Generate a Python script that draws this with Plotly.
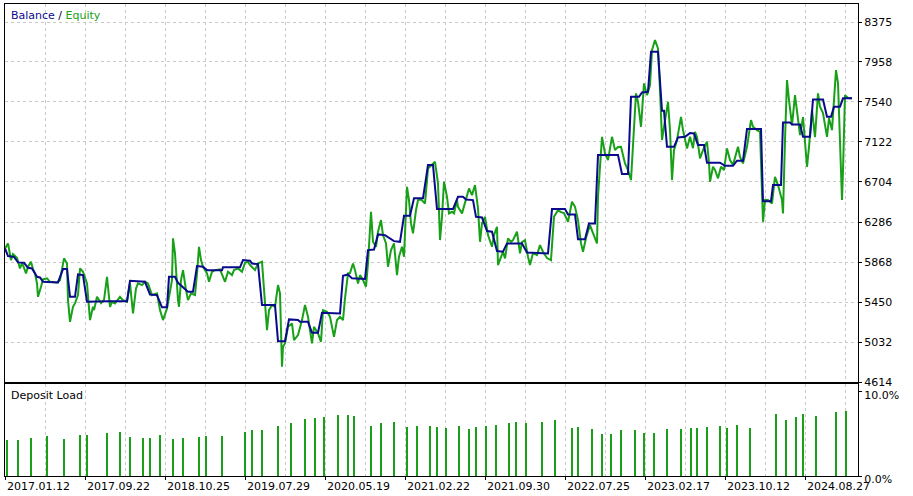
import plotly.graph_objects as go

# ---------------- data ----------------
# x positions are sequential chart-point indices (0 .. 853)
bal_x = [0,3,9,13,19,23,27,32,35,38,
         53,58,62,65,70,73,78,82,103,122,
         125,140,145,152,157,162,164,170,173,183,
         188,192,198,202,217,218,235,238,245,247,
         253,257,270,273,280,284,293,295,303,307,
         313,317,335,338,343,347,360,363,369,373,
         380,389,395,399,405,409,418,423,428,432,
         448,453,458,461,468,471,477,482,487,492,
         498,502,517,522,543,547,560,563,570,573,
         580,584,590,593,613,617,623,626,634,637,
         643,646,653,657,659,662,669,673,680,685,
         689,693,699,702,715,720,728,732,738,742,
         756,758,766,768,776,778,785,787,795,798,
         805,808,818,822,826,829,835,838,847]
balance = [6010,5930,5922,5864,5860,5807,5801,5713,5707,5661,
           5655,5794,5794,5504,5504,5738,5731,5452,5459,5459,
           5672,5661,5529,5522,5394,5394,5713,5713,5651,5557,
           5557,5825,5818,5783,5783,5812,5812,5888,5881,5853,
           5846,5418,5418,5041,5041,5268,5261,5243,5243,5128,
           5128,5337,5331,5724,5738,5697,5690,5992,5999,6156,
           6149,6086,6079,6351,6351,6533,6533,6881,6881,6421,
           6421,6549,6549,6522,6515,6340,6334,6191,6184,5982,
           5975,6062,6062,5968,5958,6421,6421,6365,6365,6107,
           6107,6271,6271,6985,6985,6787,6787,7594,7594,7640,
           7647,8065,8065,7448,7448,7072,7072,7170,7176,7215,
           7212,7090,7090,6905,6905,6873,6873,6926,6926,7257,
           7257,6504,6504,6672,6672,7327,7327,7306,7306,7176,
           7176,7567,7567,7385,7385,7490,7490,7578,7578]

eq_x = [0,2,3,6,8,10,12,15,17,18,
        21,23,26,28,30,32,33,36,38,42,
        45,52,55,59,62,63,65,68,70,73,
        75,78,82,85,88,89,92,96,99,102,
        105,107,110,115,118,122,125,128,131,133,
        137,140,143,147,152,155,158,162,164,167,
        168,170,173,174,176,178,181,183,186,190,
        192,194,196,198,202,204,207,210,215,220,
        223,227,229,233,237,240,243,245,250,253,
        257,260,262,264,267,270,273,275,277,278,
        280,283,287,289,293,297,300,303,307,309,
        313,316,318,322,325,329,332,335,338,340,
        343,345,348,350,353,355,358,361,363,366,
        368,371,373,376,378,381,383,386,389,392,
        394,397,399,402,404,406,408,411,413,416,
        420,423,427,430,433,435,437,439,442,444,
        447,449,452,453,457,460,464,467,470,473,
        475,477,480,483,487,489,492,493,496,498,
        500,503,506,508,512,515,517,520,523,525,
        528,532,535,538,542,546,549,553,556,559,
        563,567,570,573,576,578,581,585,588,592,
        593,595,597,600,603,607,610,613,616,620,
        623,626,628,631,633,636,639,642,645,647,
        650,653,655,657,659,663,665,667,669,672,
        676,678,682,685,688,690,692,695,698,702,
        704,705,708,710,713,716,719,722,725,728,
        733,735,738,742,746,748,752,755,758,760,
        763,767,770,773,777,778,780,782,784,787,
        790,793,795,798,802,804,807,810,813,815,
        818,822,824,827,831,833,835,837,838,840,
        843,847]
equity = [6010,6045,6062,5888,5951,5930,5909,5801,5857,5836,
          5749,5818,5870,5794,5749,5644,5504,5609,5686,5697,
          5661,5655,5679,5906,5853,5470,5243,5400,5435,5522,
          5801,5766,5644,5261,5400,5365,5504,5439,5470,5713,
          5400,5452,5435,5504,5470,5452,5644,5331,5592,5644,
          5627,5661,5644,5522,5540,5365,5261,5383,5522,5679,
          6115,5958,5470,5400,5679,5783,5574,5470,5540,5522,
          5749,6027,5888,5818,5749,5661,5766,5783,5790,5661,
          5766,5731,5783,5801,5766,5860,5870,5836,5783,5853,
          5870,5418,5156,5365,5418,5400,5627,5540,4773,4982,
          5017,5191,5226,5052,5104,5261,5418,5296,5017,5191,
          5122,5034,5365,5348,5296,5086,5261,5296,5261,5488,
          5749,5752,5853,5783,5644,5731,5679,5609,5853,6393,
          6079,6027,6184,6306,6149,6062,5818,5992,6062,5731,
          5923,6027,5923,6654,6515,6271,6167,6410,6515,6522,
          6480,6846,6881,6915,6689,6097,6340,6706,6549,6376,
          6393,6376,6515,6445,6376,6480,6637,6567,6672,6428,
          6079,6271,6340,6149,6027,6149,6236,5836,5923,5975,
          5905,6115,6079,6097,6184,5958,6076,6097,5923,5836,
          5961,5940,6045,5975,5909,5888,6340,6410,6389,6379,
          6288,6497,6445,6306,6062,5975,6118,6254,6170,6062,
          6549,6881,7176,7003,6933,7176,7037,7069,7072,6898,
          6829,6724,7142,7630,7542,7281,7734,7612,7717,8082,
          8187,8100,7664,7142,7281,7542,7246,6724,7037,7142,
          7385,7246,7055,7176,7058,7229,7173,6951,7037,7124,
          6902,6706,6863,6829,6742,6863,6829,7055,6933,6881,
          7072,6967,6898,7072,7351,7281,7246,7229,6288,6515,
          6515,6480,6758,6672,6515,6376,7142,7769,7560,7299,
          7612,7351,7194,7382,6863,7069,7455,7173,7630,7490,
          7424,7176,7372,7246,7873,7738,7212,6515,6828,7612,
          7581,7578]

load_x = [2,13,26,42,59,75,82,102,115,125,
          138,145,155,168,178,194,201,217,240,247,
          257,273,286,300,310,319,333,343,349,366,
          376,389,402,412,425,432,441,454,464,471,
          481,491,504,511,521,537,550,567,573,587,
          597,606,616,630,639,649,662,676,686,692,
          702,715,722,732,745,771,781,791,798,811,
          831,841]
deposit_load = [4.3,4.3,4.5,4.8,4.4,4.9,4.9,5.1,5.2,4.6,
                4.5,4.5,4.9,4.4,4.5,4.6,4.8,4.8,5.2,5.5,
                5.5,6.0,6.3,6.8,6.9,7.0,7.3,7.3,7.1,6.0,
                6.3,6.4,5.8,6.0,6.0,5.8,5.7,6.0,5.6,5.8,
                6.0,6.1,6.3,6.4,6.3,6.4,6.7,5.7,5.8,5.6,
                5.0,5.0,5.5,5.5,5.1,5.1,5.6,5.6,5.7,5.7,
                5.8,6.0,5.7,6.1,5.7,7.4,6.7,7.0,7.4,7.1,
                7.6,7.7]

y_ticks = [4614, 5032, 5450, 5868, 6286, 6704, 7122, 7540, 7958, 8375]
date_pos = [0, 80, 160, 240, 320, 400, 480, 560, 640, 720, 800]
date_labels = ["2017.01.12", "2017.09.22", "2018.10.25", "2019.07.29",
               "2020.05.19", "2021.02.22", "2021.09.30", "2022.07.25",
               "2023.02.17", "2023.10.12", "2024.08.27"]

assert len(bal_x) == len(balance)
assert len(eq_x) == len(equity)
assert len(load_x) == len(deposit_load)

# ---------------- styling ----------------
GREEN = "#19a019"
BLUE = "#0a0a8c"
GRID = "#c8c8c8"
FONT = "DejaVu Sans"
W, H = 913, 496
ML, MR, MT, MB = 5, 55, 4, 20
plot_h = H - MT - MB
top_dom = [(476 - 382) / plot_h, 1.0]
bot_dom = [0.0, (476 - 384) / plot_h]

fig = go.Figure()
fig.add_trace(go.Scatter(x=eq_x, y=equity, mode="lines", name="Equity",
                         line=dict(color=GREEN, width=2), xaxis="x", yaxis="y"))
fig.add_trace(go.Scatter(x=bal_x, y=balance, mode="lines", name="Balance",
                         line=dict(color=BLUE, width=2), xaxis="x", yaxis="y"))
fig.add_trace(go.Bar(x=load_x, y=deposit_load, width=2, marker=dict(color=GREEN, line=dict(width=0)),
                     name="Deposit Load", xaxis="x2", yaxis="y2"))

xcommon = dict(range=[0, 853], tick0=0, dtick=80, showgrid=True, gridcolor=GRID, griddash="3px,3px",
               gridwidth=1, zeroline=False, showline=True, linecolor="black", linewidth=1, mirror=True,
               minor=dict(tick0=0, dtick=40, showgrid=True, gridcolor=GRID, griddash="3px,3px", gridwidth=1))

fig.update_layout(
    width=W, height=H, autosize=False,
    margin=dict(l=ML, r=MR, t=MT, b=MB, pad=0),
    paper_bgcolor="white", plot_bgcolor="white",
    showlegend=False, bargap=0,
    font=dict(family=FONT, size=11, color="black"),
    xaxis=dict(domain=[0, 1], anchor="y", showticklabels=False, ticks="", **xcommon),
    xaxis2=dict(domain=[0, 1], anchor="y2", showticklabels=False, ticks="outside", ticklen=3,
                tickcolor="black", **xcommon),
    yaxis=dict(domain=top_dom, anchor="x", side="right", range=[4614, 8564],
               tickvals=y_ticks, ticktext=[str(v) for v in y_ticks],
               ticks="outside", ticklen=3, tickcolor="black",
               showgrid=True, gridcolor=GRID, griddash="3px,3px", gridwidth=1, zeroline=False,
               showline=True, linecolor="black", linewidth=1, mirror=True,
               tickfont=dict(family=FONT, size=11, color="black")),
    yaxis2=dict(domain=bot_dom, anchor="x2", side="right", range=[0, 10.95],
                tickvals=[0, 10], ticktext=["0.0%", "10.0%"],
                ticks="outside", ticklen=3, tickcolor="black", ticklabelshift=3,
                showgrid=False, zeroline=False,
                showline=True, linecolor="black", linewidth=1, mirror=True,
                tickfont=dict(family=FONT, size=11, color="black")),
)

def py(pix):
    return (H - MB - pix) / plot_h

annotations = [
    dict(xref="paper", yref="paper", x=4 / (W - ML - MR), y=py(15), xanchor="left", yanchor="middle",
         showarrow=False, font=dict(family=FONT, size=11),
         text=f"<span style='color:{BLUE}'>Balance</span><span style='color:#000040'> / </span>"
              f"<span style='color:{GREEN}'>Equity</span>"),
    dict(xref="paper", yref="paper", x=4 / (W - ML - MR), y=py(395), xanchor="left", yanchor="middle",
         showarrow=False, font=dict(family=FONT, size=11, color="black"), text="Deposit Load"),
]
for pos, lab in zip(date_pos, date_labels):
    annotations.append(dict(xref="x2", yref="paper", x=pos, y=0, xanchor="left", yanchor="top",
                            xshift=0, yshift=-2, showarrow=False,
                            font=dict(family=FONT, size=11, color="black"), text=lab))
fig.update_layout(annotations=annotations)

fig.write_html("out.html", config={"displayModeBar": False},
               post_script="document.body.style.margin='0';")
